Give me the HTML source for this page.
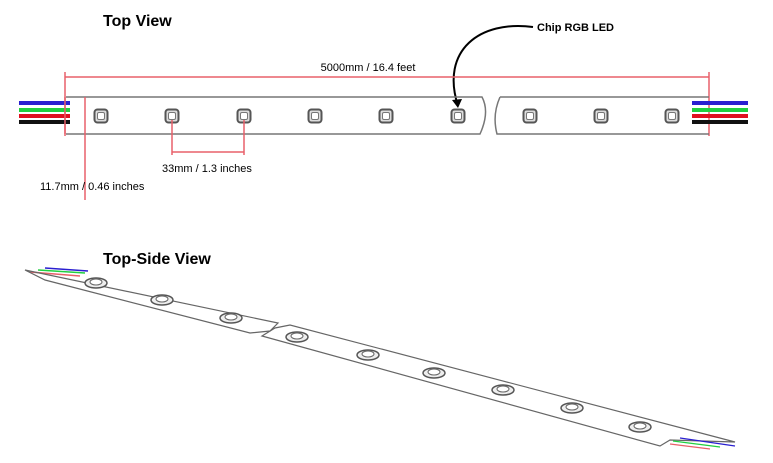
<!DOCTYPE html>
<html><head><meta charset="utf-8"><style>
html,body{margin:0;padding:0;background:#fff;}
svg{display:block;font-family:"Liberation Sans",Arial,sans-serif;}
</style></head><body>
<svg width="773" height="463" viewBox="0 0 773 463" xmlns="http://www.w3.org/2000/svg">
<defs>
<g id="led"><rect x="-6.5" y="-6.5" width="13" height="13" rx="3" fill="#ddd" stroke="#555" stroke-width="2"/><rect x="-3.5" y="-3.5" width="7" height="7" rx="1.5" fill="#fff" stroke="#777" stroke-width="1"/></g>
<g id="led2"><ellipse cx="0" cy="0" rx="11" ry="5" fill="#eee" stroke="#555" stroke-width="1.5"/><ellipse cx="0" cy="-1" rx="6" ry="3" fill="#fff" stroke="#666" stroke-width="1"/></g>
</defs>
<text x="103" y="26" font-size="16" font-weight="bold">Top View</text>
<text x="537" y="31" font-size="11" font-weight="bold">Chip RGB LED</text>
<path d="M533,27 C480,20 440,50 458,106" fill="none" stroke="#000" stroke-width="2"/>
<path d="M452,100 L458,108 L462,99 Z" fill="#000"/>
<!-- dimension -->
<text x="368" y="71" font-size="11" text-anchor="middle">5000mm / 16.4 feet</text>
<line x1="65" y1="77" x2="709" y2="77" stroke="#e8606a" stroke-width="1.5"/>
<line x1="65" y1="72" x2="65" y2="136" stroke="#e8606a" stroke-width="1.5"/>
<line x1="709" y1="72" x2="709" y2="136" stroke="#e8606a" stroke-width="1.5"/>
<!-- wires left -->
<rect x="19" y="101" width="51" height="4" fill="#2a1fd0"/>
<rect x="19" y="108" width="51" height="4" fill="#20d040"/>
<rect x="19" y="114" width="51" height="4" fill="#e01020"/>
<rect x="19" y="120" width="51" height="4" fill="#111"/>
<rect x="692" y="101" width="56" height="4" fill="#2a1fd0"/>
<rect x="692" y="108" width="56" height="4" fill="#20d040"/>
<rect x="692" y="114" width="56" height="4" fill="#e01020"/>
<rect x="692" y="120" width="56" height="4" fill="#111"/>
<!-- strip -->
<path d="M66,97 L482,97 Q490,112 480,134 L66,134" fill="none" stroke="#777" stroke-width="1.5"/>
<path d="M500,97 L709,97 M709,134 L497,134 Q492,115 500,97" fill="none" stroke="#777" stroke-width="1.5"/>
<line x1="65" y1="97" x2="65" y2="134" stroke="#e8606a" stroke-width="1.5"/>
<use href="#led" x="101" y="116"/><use href="#led" x="172" y="116"/><use href="#led" x="244" y="116"/>
<use href="#led" x="315" y="116"/><use href="#led" x="386" y="116"/><use href="#led" x="458" y="116"/>
<use href="#led" x="530" y="116"/><use href="#led" x="601" y="116"/><use href="#led" x="672" y="116"/>
<!-- dims -->
<line x1="85" y1="97" x2="85" y2="200" stroke="#e8606a" stroke-width="1.5"/>
<line x1="172" y1="120" x2="172" y2="155" stroke="#e8606a" stroke-width="1.5"/>
<line x1="244" y1="120" x2="244" y2="155" stroke="#e8606a" stroke-width="1.5"/>
<line x1="172" y1="152" x2="244" y2="152" stroke="#e8606a" stroke-width="1.5"/>
<text x="162" y="172" font-size="11">33mm / 1.3 inches</text>
<text x="40" y="190" font-size="11">11.7mm / 0.46 inches</text>
<!-- top-side view -->
<text x="103" y="264" font-size="16" font-weight="bold">Top-Side View</text>
<line x1="30" y1="272" x2="80" y2="276" stroke="#e8606a" stroke-width="1.5"/>
<line x1="38" y1="270" x2="85" y2="273" stroke="#20d040" stroke-width="1.5"/>
<line x1="45" y1="268" x2="88" y2="271" stroke="#2a1fd0" stroke-width="1.5"/>
<path d="M25,270 L278,323 L270,331 L250,333 L45,280 Z" fill="none" stroke="#666" stroke-width="1.2"/>
<path d="M262,336 L275,328 L290,325 L735,442 L670,440 L660,446 Z" fill="none" stroke="#666" stroke-width="1.2"/>
<line x1="680" y1="438" x2="735" y2="446" stroke="#2a1fd0" stroke-width="1.2"/>
<line x1="673" y1="441" x2="720" y2="447" stroke="#20d040" stroke-width="1.2"/>
<line x1="670" y1="444" x2="710" y2="449" stroke="#e8606a" stroke-width="1.2"/>
<use href="#led2" x="96" y="283"/><use href="#led2" x="162" y="300"/><use href="#led2" x="231" y="318"/>
<use href="#led2" x="297" y="337"/><use href="#led2" x="368" y="355"/><use href="#led2" x="434" y="373"/>
<use href="#led2" x="503" y="390"/><use href="#led2" x="572" y="408"/><use href="#led2" x="640" y="427"/>
</svg>
</body></html>
